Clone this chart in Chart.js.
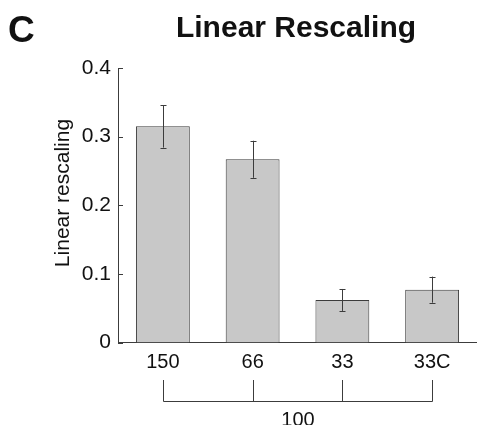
<!DOCTYPE html>
<html>
<head>
<meta charset="utf-8">
<script src="https://cdn.jsdelivr.net/npm/chart.js@4.4.1/dist/chart.umd.min.js"></script>
<style>
  html, body { margin: 0; padding: 0; background: #fff; }
  #wrap { width: 477px; height: 425px; }
</style>
</head>
<body>
<div id="wrap"><canvas id="chart" width="477" height="425"></canvas></div>
<script>
// values
const categories = ['150', '66', '33', '33C'];
const rescaling = [0.315, 0.267, 0.062, 0.077];
const errors = [0.031, 0.027, 0.016, 0.019];
const yTicks = [0, 0.1, 0.2, 0.3, 0.4];
const groupLabel = '100';

const FONT = '"Liberation Sans", Arial, Helvetica, sans-serif';
const INK = '#3c3c3c';

// error bars, inner y ticks, bracket and the text round the plot
const extras = {
    id: 'extras',
    afterDatasetsDraw(chart) {
        const ctx = chart.ctx;
        const x = chart.scales.x;
        const y = chart.scales.y;
        const area = chart.chartArea;

        ctx.save();
        ctx.strokeStyle = INK;
        ctx.lineWidth = 1;

        // error bars
        rescaling.forEach((v, i) => {
            const cx = Math.round(x.getPixelForValue(i)) + 0.5;
            const top = y.getPixelForValue(v + errors[i]);
            const bot = y.getPixelForValue(v - errors[i]);
            ctx.beginPath();
            ctx.moveTo(cx, top);
            ctx.lineTo(cx, bot);
            ctx.moveTo(cx - 3, Math.round(top) + 0.5);
            ctx.lineTo(cx + 3, Math.round(top) + 0.5);
            ctx.moveTo(cx - 3, Math.round(bot) + 0.5);
            ctx.lineTo(cx + 3, Math.round(bot) + 0.5);
            ctx.stroke();
        });

        // ticks pointing into the plot
        yTicks.forEach(t => {
            const py = Math.round(y.getPixelForValue(t)) + 0.5;
            ctx.beginPath();
            ctx.moveTo(area.left, py);
            ctx.lineTo(area.left + 5, py);
            ctx.stroke();
        });

        // bracket under the categories
        const x0 = Math.round(x.getPixelForValue(0)) + 0.5;
        const x3 = Math.round(x.getPixelForValue(categories.length - 1)) + 0.5;
        const by = 401.5;
        ctx.beginPath();
        ctx.moveTo(x0, by);
        ctx.lineTo(x3, by);
        categories.forEach((c, i) => {
            const px = Math.round(x.getPixelForValue(i)) + 0.5;
            ctx.moveTo(px, 380);
            ctx.lineTo(px, by);
        });
        ctx.stroke();

        ctx.fillStyle = '#111';
        ctx.textAlign = 'center';
        ctx.textBaseline = 'middle';
        ctx.font = '20px ' + FONT;
        ctx.fillText(groupLabel, (x0 + x3) / 2, 420);

        // y axis title
        ctx.save();
        ctx.translate(63, 193);
        ctx.rotate(-Math.PI / 2);
        ctx.font = '21px ' + FONT;
        ctx.fillText('Linear rescaling', 0, 0);
        ctx.restore();

        // panel letter and title
        ctx.font = 'bold 37px ' + FONT;
        ctx.textAlign = 'left';
        ctx.fillText('C', 8, 32);
        ctx.textAlign = 'center';
        ctx.font = 'bold 30px ' + FONT;
        ctx.fillText('Linear Rescaling', 296, 29);
        ctx.restore();
    }
};

new Chart(document.getElementById('chart'), {
    type: 'bar',
    data: {
        labels: categories,
        datasets: [{
            data: rescaling,
            backgroundColor: '#c8c8c8',
            borderColor: INK,
            borderWidth: 1,
            barPercentage: 0.6,
            categoryPercentage: 1.0
        }]
    },
    options: {
        responsive: false,
        animation: false,
        layout: { padding: { top: 68, left: 0, right: 0, bottom: 0 } },
        scales: {
            x: {
                grid: { display: false, drawTicks: false },
                border: { display: true, color: INK, width: 1 },
                ticks: { color: '#111', padding: 8, font: { family: FONT, size: 20 } },
                afterFit(scale) { scale.height = 82.5; }
            },
            y: {
                min: 0,
                max: 0.4,
                grid: { display: false, drawTicks: false },
                border: { display: true, color: INK, width: 1 },
                ticks: {
                    stepSize: 0.1,
                    padding: 7,
                    color: '#111',
                    font: { family: FONT, size: 21 },
                    callback: v => v === 0 ? '0' : v.toFixed(1)
                },
                afterFit(scale) { scale.width = 118; }
            }
        },
        plugins: {
            legend: { display: false },
            tooltip: { enabled: false }
        }
    },
    plugins: [extras]
});
</script>
</body>
</html>
